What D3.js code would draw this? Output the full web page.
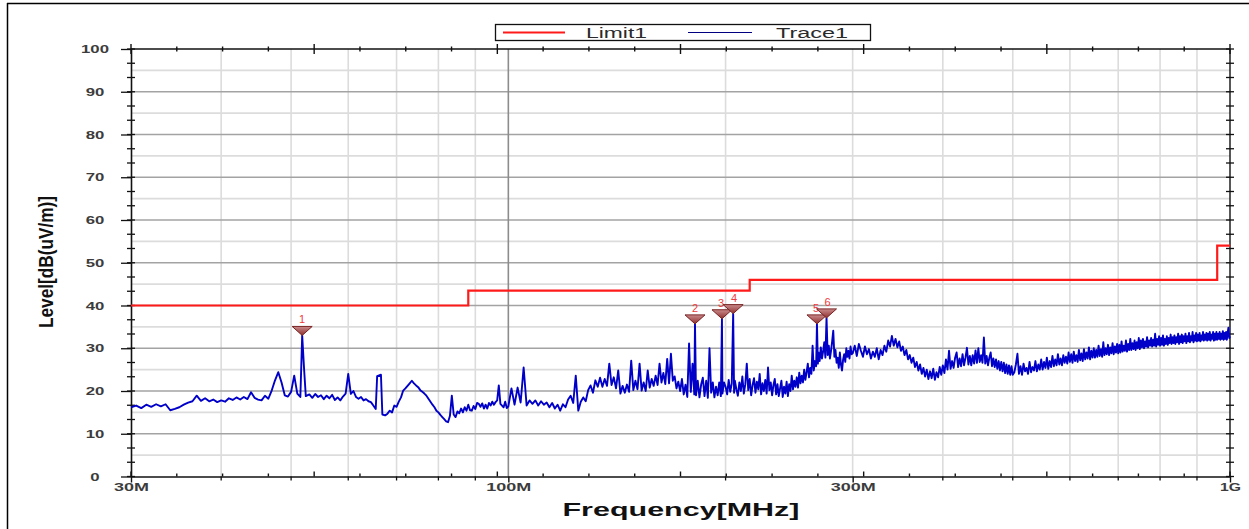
<!DOCTYPE html>
<html><head><meta charset="utf-8">
<script src="https://cdn.jsdelivr.net/npm/d3@7"></script>
<style>body{margin:0;background:#fff}svg{display:block}</style>
</head><body><svg id="c" width="1249" height="529"></svg>
<script>
// ---------------- DATA ----------------
const yTicks = [0,10,20,30,40,50,60,70,80,90,100];
const xTickValues = [30,100,300,1000];
const xTickLabels = ["30M","100M","300M","1G"];
const legendNames = ["Limit1","Trace1"];

const limitFreq  = [30, 88, 88, 216, 216, 960, 960, 1000];
const limitLevel = [40, 40, 43.5, 43.5, 46, 46, 54, 54];

const markerFreq   = [51.8, 181.4, 197.7, 204.9, 267.7, 276];
const markerLevel  = [33.0, 35.7, 36.9, 38.1, 35.7, 37.1];
const markerLabels = ["1","2","3","4","5","6"];

// Trace1 : [frequency MHz, level dB(uV/m)]
const traceSeg1 = [[30,16.2],[30.5,16.6],[31,16.0],[31.5,16.8],[32,16.3],[32.5,16.9],[33,16.4],[33.5,16.9],[34,15.5],[34.5,15.8],[35,16.2],[35.5,16.8],[36,17.3],[36.5,17.6],[37,18.9],[37.5,17.7],[38,18.3],[38.5,17.6],[39,18.0],[39.5,17.4],[40,17.8],[40.5,17.5],[41,18.3],[41.5,17.9],[42,18.5],[42.5,18.0],[43,18.6],[43.5,18.1],[44,19.7],[44.5,18.4],[45,18.0],[45.5,17.8],[46,18.9],[46.5,18.2],[47,20.1],[47.5,22.5],[48,24.4],[48.5,22.0],[49,19.0],[49.5,18.7],[50,19.8],[50.5,23.6],[51,19.4],[51.5,18.6],[51.8,33.0],[52.1,25.5],[52.4,18.8],[53,19.2],[53.5,18.4],[54,19.3],[54.5,18.6],[55,19.0],[55.5,18.1],[56,18.9],[56.5,18.3],[57,19.1],[57.5,17.9],[58,18.5],[58.5,17.8],[59,18.7],[59.5,19.4],[60,24.0],[60.5,19.3],[61,20.0],[61.5,18.6],[62,18.2],[62.5,18.6],[63,17.8],[63.5,18.1],[64,17.6],[64.5,17.4],[65,16.6],[65.5,15.8],[65.8,23.5],[66.6,23.8],[66.9,14.5],[67.5,14.3],[68,14.7],[68.5,15.4],[69,15.0],[69.5,16.6],[70,16.3],[70.5,17.5],[71,18.5],[71.5,20.1],[72,20.6],[72.5,21.2],[73,21.8],[73.5,22.4],[74,21.8],[74.5,21.3],[75,20.9],[75.5,20.2],[76,19.8],[76.5,19.4],[77,18.9],[77.5,18.2],[78,17.5],[78.5,16.8],[79,16.2],[79.5,15.4],[80,15.0],[80.5,14.4],[81,13.9],[81.5,13.4],[82,12.9],[82.5,12.7],[83,14.2],[83.5,18.9],[84,14.5],[84.5,13.9],[85,15.2],[85.5,14.8],[86,15.9],[86.5,15.0],[87,16.2],[87.5,15.4],[88,16.8],[88.5,15.5],[89,15.4],[89.5,16.5],[90,15.8],[90.5,17.2],[91,17.0],[91.5,16.3],[92,17.1],[92.5,15.9],[93,16.8],[93.5,15.9],[94,17.2],[94.5,16.6],[95,17.5],[95.5,16.8],[96,17.4],[96.5,17.8],[97,21.3],[97.5,17.0],[98,16.6],[98.5,16.2],[99,17.5],[99.5,16.0]];
const traceSeg2 = [[100,16.4],[101,20.6],[102,16.8],[103,20.8],[104,17.3],[105,25.5],[106,16.6],[107,17.8],[108,17.0],[109,17.8],[110,16.6],[111,17.6],[112,16.8],[113,17.3],[114,16.2],[115,17.2],[116,15.9],[117,16.8],[118,15.4],[119,16.9],[120,16.2],[121,18.0],[122,18.9],[123,17.2],[124,23.6],[125,15.4],[126,17.5],[127,18.5],[128,17.6],[129,20.2],[130,21.3],[131,19.6],[132,22.5],[133,21.0],[134,23.1],[135,21.0],[136,22.8],[137,21.2],[138,26.4],[139,21.4],[140,23.2],[141,20.6],[142,24.8],[143,19.4],[144,21.2],[145,19.6],[146,21.5],[147,19.8],[148,27.1],[149,20.2],[150,22.4],[151,20.4],[152,26.4],[153,20.1],[154,22.0],[155,20.0],[156,24.8],[157,20.8],[158,22.8],[159,21.2],[160,23.6],[161,21.4],[162,26.4],[163,22.0],[164,24.2],[165,21.6],[166,27.5],[167,21.8],[168,28.7],[169,22.4],[170,23.4],[171,20.6],[172,22.2],[173,20.0],[174,22.8],[175,19.2],[176,21.5],[177,18.6],[178,31.1],[179,19.8],[180,26.4],[181,19.2],[181.4,35.7],[182,19.0],[183,22.4],[184,18.5],[185,21.5],[186,23.1],[187,18.8],[188,22.4],[189,18.4],[190,30.0],[191,19.6],[192,22.0],[193,18.5],[194,21.0],[195,19.0],[196,22.0],[197,18.8],[197.7,36.9],[198,19.4],[199,22.0]];
const traceSeg3 = [[200,21.0],[201,19.2],[202,22.6],[203,19.8],[204,21.8],[204.9,38.1],[205.5,19.6],[206,22.4],[207,20.4],[208,18.9],[209,22.0],[210,20.0],[211,23.4],[212,19.4],[213,21.6],[214,26.4],[215,20.2],[216,22.8],[217,19.0],[218,21.4],[219,23.0],[220,19.6],[221,22.2],[222,20.4],[223,24.0],[224,19.2],[225,21.8],[226,20.0],[227,22.6],[228,19.4],[229,25.5],[230,20.2],[231,22.0],[232,19.0],[233,21.4],[234,22.8],[235,19.2],[236,21.6],[237,18.8],[238,20.6],[239,22.4],[240,18.6],[241,21.0],[242,19.4],[243,22.2],[244,18.8],[245,21.6],[246,20.0],[247,23.6],[248,20.4],[249,22.4],[250,21.0],[251,23.2],[252,20.8],[253,24.3],[254,21.8],[255,23.6],[256,22.0],[257,25.0],[258,22.6],[259,24.4],[260,26.4],[261,23.2],[262,25.4],[263,24.0],[264,30.6],[265,24.8],[266,27.0],[267,25.8],[267.7,35.7],[268.5,26.4],[269,29.0],[270,27.0],[271,30.2],[272,27.6],[273,29.2],[274,31.4],[275,27.8],[276,37.1],[277,28.4],[278,30.6],[279,27.6],[280,29.4],[281,31.6],[282,34.1],[283,28.0],[284,29.6],[285,26.6],[286,27.8],[287,25.4],[288,29.0],[289,26.2],[290,24.8],[291,27.4],[292,28.6],[293,26.8],[294,30.0],[295,28.0],[296,29.4],[297,27.6],[298,30.4],[299,28.6]];
const traceSeg4 = [[300,28.8],[302,30.6],[304,28.2],[306,31.0],[308,29.4],[310,28.0],[312,30.4],[314,28.6],[316,29.8],[318,27.6],[320,29.2],[322,28.0],[324,30.0],[326,27.4],[328,29.6],[330,28.4],[332,30.6],[334,29.2],[336,31.8],[338,30.4],[340,32.9],[342,30.6],[344,32.2],[346,30.2],[348,31.6],[350,29.4],[352,30.4],[354,28.4],[356,29.6],[358,27.4],[360,28.4],[362,26.6],[364,27.8],[366,25.6],[368,26.8],[370,24.8],[372,26.2],[374,24.0],[376,25.4],[378,23.4],[380,25.0],[382,22.8],[384,24.6],[386,23.0],[388,25.2],[390,22.6],[392,24.4],[394,23.2],[396,25.6],[398,23.8],[400,26.0],[402,24.2],[404,27.4],[406,25.0],[408,29.4],[410,25.2],[412,27.0],[414,25.4],[416,27.8],[418,29.0],[420,25.6],[422,27.6],[424,25.8],[426,28.6],[428,26.0],[430,27.8],[432,30.1],[434,26.2],[436,28.2],[438,26.0],[440,28.4],[442,26.4],[444,29.5],[446,26.6],[448,30.0],[450,26.8],[452,28.4],[454,26.6],[456,32.5],[458,26.4],[460,28.2],[462,26.0],[464,27.8],[466,29.0],[468,25.8],[470,27.6],[472,25.6],[474,27.4],[476,25.2],[478,27.0],[480,24.8],[482,26.8],[484,24.6],[486,26.6],[488,24.2],[490,26.2],[492,24.0],[494,26.0],[496,23.8],[498,25.8],[500,23.8]];
const traceSeg5 = [[502.5,24.4],[505,26.2],[507.5,28.7],[510,24.0],[512.5,25.8],[515,23.8],[517.5,26.4],[520,24.6],[522.5,25.4],[525,24.0],[527.5,26.8],[530,24.4],[532.5,25.6],[535,24.8],[537.5,27.0],[540,24.6],[542.5,26.2],[545,25.0],[547.5,27.4],[550,25.0],[552.5,26.8],[555,25.4],[557.5,27.8],[560,25.2],[562.5,27.0],[565,25.6],[567.5,28.2],[570,25.8],[572.5,27.4],[575,26.0],[577.5,28.6],[580,26.2],[582.5,27.6],[585,26.0],[587.5,28.4],[590,26.6],[592.5,28.0],[595,26.4],[597.5,29.0],[600,26.8],[602.5,28.6],[605,26.6],[607.5,29.2],[610,27.0],[612.5,28.4],[615,26.8],[617.5,29.6],[620,27.2],[622.5,28.8],[625,27.0],[627.5,29.8],[630,27.4],[632.5,29.0],[635,27.6],[637.5,30.2],[640,27.4],[642.5,29.4],[645,27.8],[647.5,30.0],[650,27.8],[652.5,29.6],[655,28.0],[657.5,30.6],[660,28.2],[662.5,29.8],[665,28.0],[667.5,31.4],[670,28.4],[672.5,30.0],[675,28.6],[677.5,30.8],[680,28.4],[682.5,30.2],[685,28.8],[687.5,31.2],[690,28.6],[692.5,30.4],[695,29.0],[697.5,31.0],[700,28.8],[702.5,30.8],[705,29.0],[707.5,31.6],[710,29.2],[712.5,30.6],[715,29.4],[717.5,31.8],[720,29.2],[722.5,31.0],[725,29.6],[727.5,32.2],[730,29.6],[732.5,31.2],[735,29.8],[737.5,31.8],[740,29.6],[742.5,31.4],[745,30.0],[747.5,32.4],[750,29.8],[752.5,31.8],[755,30.2],[757.5,32.2],[760,30.0],[762.5,31.6],[765,30.4],[767.5,32.6],[770,30.2],[772.5,31.8],[775,30.6],[777.5,32.4],[780,30.4],[782.5,32.0],[785,30.6],[787.5,33.4],[790,30.4],[792.5,32.2],[795,30.8],[797.5,32.8],[800,30.6],[802.5,32.4],[805,30.8],[807.5,33.0],[810,30.6],[812.5,32.2],[815,31.0],[817.5,32.8],[820,30.8],[822.5,32.4],[825,31.2],[827.5,33.2],[830,31.0],[832.5,32.6],[835,31.2],[837.5,33.0],[840,31.0],[842.5,32.6],[845,31.4],[847.5,33.4],[850,31.0],[852.5,32.8],[855,31.4],[857.5,33.2],[860,31.2],[862.5,32.8],[865,31.6],[867.5,33.4],[870,31.2],[872.5,32.8],[875,31.6],[877.5,33.6],[880,31.4],[882.5,32.8],[885,31.8],[887.5,33.8],[890,31.4],[892.5,33.0],[895,31.8],[897.5,33.6],[900,31.6],[902.5,33.2],[905,31.8],[907.5,33.6],[910,31.6],[912.5,33.0],[915,32.0],[917.5,33.8],[920,31.8],[922.5,33.2],[925,32.0],[927.5,33.6],[930,31.8],[932.5,33.4],[935,32.0],[937.5,33.8],[940,31.8],[942.5,33.2],[945,32.2],[947.5,33.8],[950,31.8],[952.5,33.4],[955,32.0],[957.5,33.8],[960,32.0],[962.5,33.4],[965,32.2],[967.5,33.8],[970,32.0],[972.5,33.4],[975,32.2],[977.5,34.0],[980,32.0],[982.5,33.6],[985,32.2],[987.5,33.8],[990,32.0],[992.5,33.6],[995,34.8],[997.5,32.4],[1000,32.8]];

// ---------------- CHART ----------------
const W = 1249, H = 529;
const L = 131, R = 1230, T = 49, B = 476.5;
const svg = d3.select("#c");
const FONT = "'Liberation Sans', Arial, Helvetica, sans-serif";

const x = d3.scaleLog().domain([30, 1000]).range([L, R]);
const y = d3.scaleLinear().domain([0, 100]).range([B, T]);

// outer frame
svg.append("line").attr("x1",7).attr("x2",W).attr("y1",3.5).attr("y2",3.5).attr("stroke","#000").attr("stroke-width",1.5);
svg.append("line").attr("x1",7.5).attr("x2",7.5).attr("y1",3).attr("y2",H).attr("stroke","#000").attr("stroke-width",1.5);

// grid
const gLight = svg.append("g").attr("stroke","#dcdcdc").attr("stroke-width",1.6);
const minorFreqs = [40,50,60,70,80,90,200,400,500,600,700,800,900];
gLight.selectAll("line.v").data(minorFreqs.concat([300])).join("line")
  .attr("x1",d=>x(d)).attr("x2",d=>x(d)).attr("y1",T).attr("y2",B);
gLight.selectAll("line.h").data([5,15,25,35,45,55,65,75,85,95]).join("line")
  .attr("x1",L).attr("x2",R).attr("y1",d=>y(d)).attr("y2",d=>y(d));
const gDark = svg.append("g").attr("stroke","#a3a3a3").attr("stroke-width",1.3);
gDark.selectAll("line.h").data([10,20,30,40,50,60,70,80,90]).join("line")
  .attr("x1",L).attr("x2",R).attr("y1",d=>y(d)).attr("y2",d=>y(d));
gDark.append("line").attr("x1",x(100)).attr("x2",x(100)).attr("y1",T).attr("y2",B).attr("stroke","#8c8c8c").attr("stroke-width",1.6);

// plot border
const border = svg.append("g").attr("stroke","#111").attr("stroke-width",1.4).attr("fill","none");
border.append("line").attr("x1",L).attr("x2",R).attr("y1",T).attr("y2",T);
border.append("line").attr("x1",R).attr("x2",R).attr("y1",T).attr("y2",B);

// linear division ticks along top/bottom
const nDiv = 24;
const divPos = d3.range(nDiv + 1).map(k => L + k * (R - L) / nDiv);
svg.append("g").attr("stroke","#111").attr("stroke-width",1.4).selectAll("line").data(divPos).join("line")
  .attr("x1",d=>d).attr("x2",d=>d)
  .attr("y1",(d,i)=>T-(i%4===0?5:2.5)).attr("y2",(d,i)=>T+(i%4===0?5:2.5));
svg.append("g").attr("stroke","#111").attr("stroke-width",1.4).selectAll("line").data(divPos).join("line")
  .attr("x1",d=>d).attr("x2",d=>d)
  .attr("y1",B).attr("y2",(d,i)=>B-(i%4===0?5:3));
// vertical division ticks along left/right
const vDiv = 30;
const vPos = d3.range(vDiv + 1).map(k => T + k * (B - T) / vDiv);
[L, R].forEach(ax => {
  svg.append("g").attr("stroke","#111").attr("stroke-width",1.3).selectAll("line").data(vPos).join("line")
    .attr("x1",ax-4).attr("x2",ax+4).attr("y1",d=>d).attr("y2",d=>d);
});

// y axis
const yAxis = svg.append("g").attr("transform",`translate(${L},0)`)
  .call(d3.axisLeft(y).tickValues(yTicks).tickSize(10).tickSizeOuter(0).tickFormat(d3.format("d")));
yAxis.select(".domain").attr("stroke","#111").attr("stroke-width",1.6);
yAxis.selectAll(".tick line").attr("stroke","#111").attr("stroke-width",1.3);
yAxis.selectAll(".tick text")
  .attr("x",-36).attr("dy","0.35em").attr("text-anchor","middle")
  .attr("fill","#3c3c3c").style("font-family",FONT).style("font-weight","bold").style("font-size","10px")
  .attr("textLength",d=>String(d).length*9.3).attr("lengthAdjust","spacingAndGlyphs");

// x axis
const xAxis = svg.append("g").attr("transform",`translate(0,${B})`)
  .call(d3.axisBottom(x).tickValues(xTickValues).tickSize(6).tickSizeOuter(0).tickFormat((d,i)=>xTickLabels[i]));
xAxis.select(".domain").attr("stroke","#111").attr("stroke-width",1.6);
xAxis.selectAll(".tick line").attr("stroke","#111").attr("stroke-width",1.4);
xAxis.selectAll(".tick text")
  .attr("y",7).attr("dy","0.71em")
  .attr("fill","#3c3c3c").style("font-family",FONT).style("font-weight","bold").style("font-size","10px")
  .attr("textLength",(d,i)=>xTickLabels[i].length===2?21:(xTickLabels[i].length===3?35:45))
  .attr("lengthAdjust","spacingAndGlyphs");
svg.append("g").attr("stroke","#111").attr("stroke-width",1.3).selectAll("line")
  .data([40,50,60,70,80,90,200,400,500,600,700,800,900]).join("line")
  .attr("x1",d=>x(d)).attr("x2",d=>x(d)).attr("y1",B).attr("y2",B+4);

// axis titles
svg.append("text").attr("transform","translate(53,262) rotate(-90)")
  .attr("text-anchor","middle").style("font-family",FONT).style("font-weight","bold").style("font-size","20px")
  .attr("fill","#111").attr("textLength",132).attr("lengthAdjust","spacingAndGlyphs")
  .text("Level[dB(uV/m)]");
svg.append("text").attr("x",681).attr("y",516)
  .attr("text-anchor","middle").style("font-family",FONT).style("font-weight","bold").style("font-size","18px")
  .attr("fill","#111").attr("textLength",237).attr("lengthAdjust","spacingAndGlyphs")
  .text("Frequency[MHz]");

// limit line
const limitData = limitFreq.map((f,i)=>[f, limitLevel[i]]);
svg.append("path").datum(limitData)
  .attr("d", d3.line().x(d=>x(d[0])).y(d=>y(d[1])))
  .attr("fill","none").attr("stroke","#ff1a1a").attr("stroke-width",2.2);

// trace
const traceData = [].concat(traceSeg1, traceSeg2, traceSeg3, traceSeg4, traceSeg5);
svg.append("path").datum(traceData)
  .attr("d", d3.line().x(d=>x(d[0])).y(d=>y(d[1])))
  .attr("fill","none").attr("stroke","#0000c8").attr("stroke-width",1.9).attr("stroke-linejoin","round");

// markers
const defs = svg.append("defs");
const grad = defs.append("linearGradient").attr("id","mk").attr("x1",0).attr("y1",0).attr("x2",0).attr("y2",1);
grad.append("stop").attr("offset","0%").attr("stop-color","#c98a8a");
grad.append("stop").attr("offset","100%").attr("stop-color","#8e2f2f");
const mk = svg.append("g").selectAll("g").data(markerFreq).join("g")
  .attr("transform",(d,i)=>`translate(${x(d)},${y(markerLevel[i])})`);
mk.append("path").attr("d","M0,0 L-10,-9 L10,-9 Z")
  .attr("fill","url(#mk)").attr("stroke","#7a2424").attr("stroke-width",1);
mk.append("text").attr("x",(d,i)=>[0,0,-1,1,-1,1][i]).attr("y",-12)
  .attr("text-anchor","middle").style("font-family",FONT).style("font-size","11px")
  .attr("fill","#f03a3a").text((d,i)=>markerLabels[i]);

// legend
const lg = svg.append("g");
lg.append("rect").attr("x",495.5).attr("y",24.5).attr("width",375).attr("height",16)
  .attr("fill","#fff").attr("stroke","#111").attr("stroke-width",1.3);
lg.append("line").attr("x1",503).attr("x2",565).attr("y1",32.5).attr("y2",32.5).attr("stroke","#ff1a1a").attr("stroke-width",2);
lg.append("line").attr("x1",688).attr("x2",752).attr("y1",32.5).attr("y2",32.5).attr("stroke","#000080").attr("stroke-width",1);
lg.append("text").attr("x",586).attr("y",37.5).style("font-family",FONT).style("font-size","14px")
  .attr("fill","#2a2a2a").attr("textLength",61).attr("lengthAdjust","spacingAndGlyphs").text(legendNames[0]);
lg.append("text").attr("x",776).attr("y",37.5).style("font-family",FONT).style("font-size","14px")
  .attr("fill","#2a2a2a").attr("textLength",72).attr("lengthAdjust","spacingAndGlyphs").text(legendNames[1]);
</script></body></html>
